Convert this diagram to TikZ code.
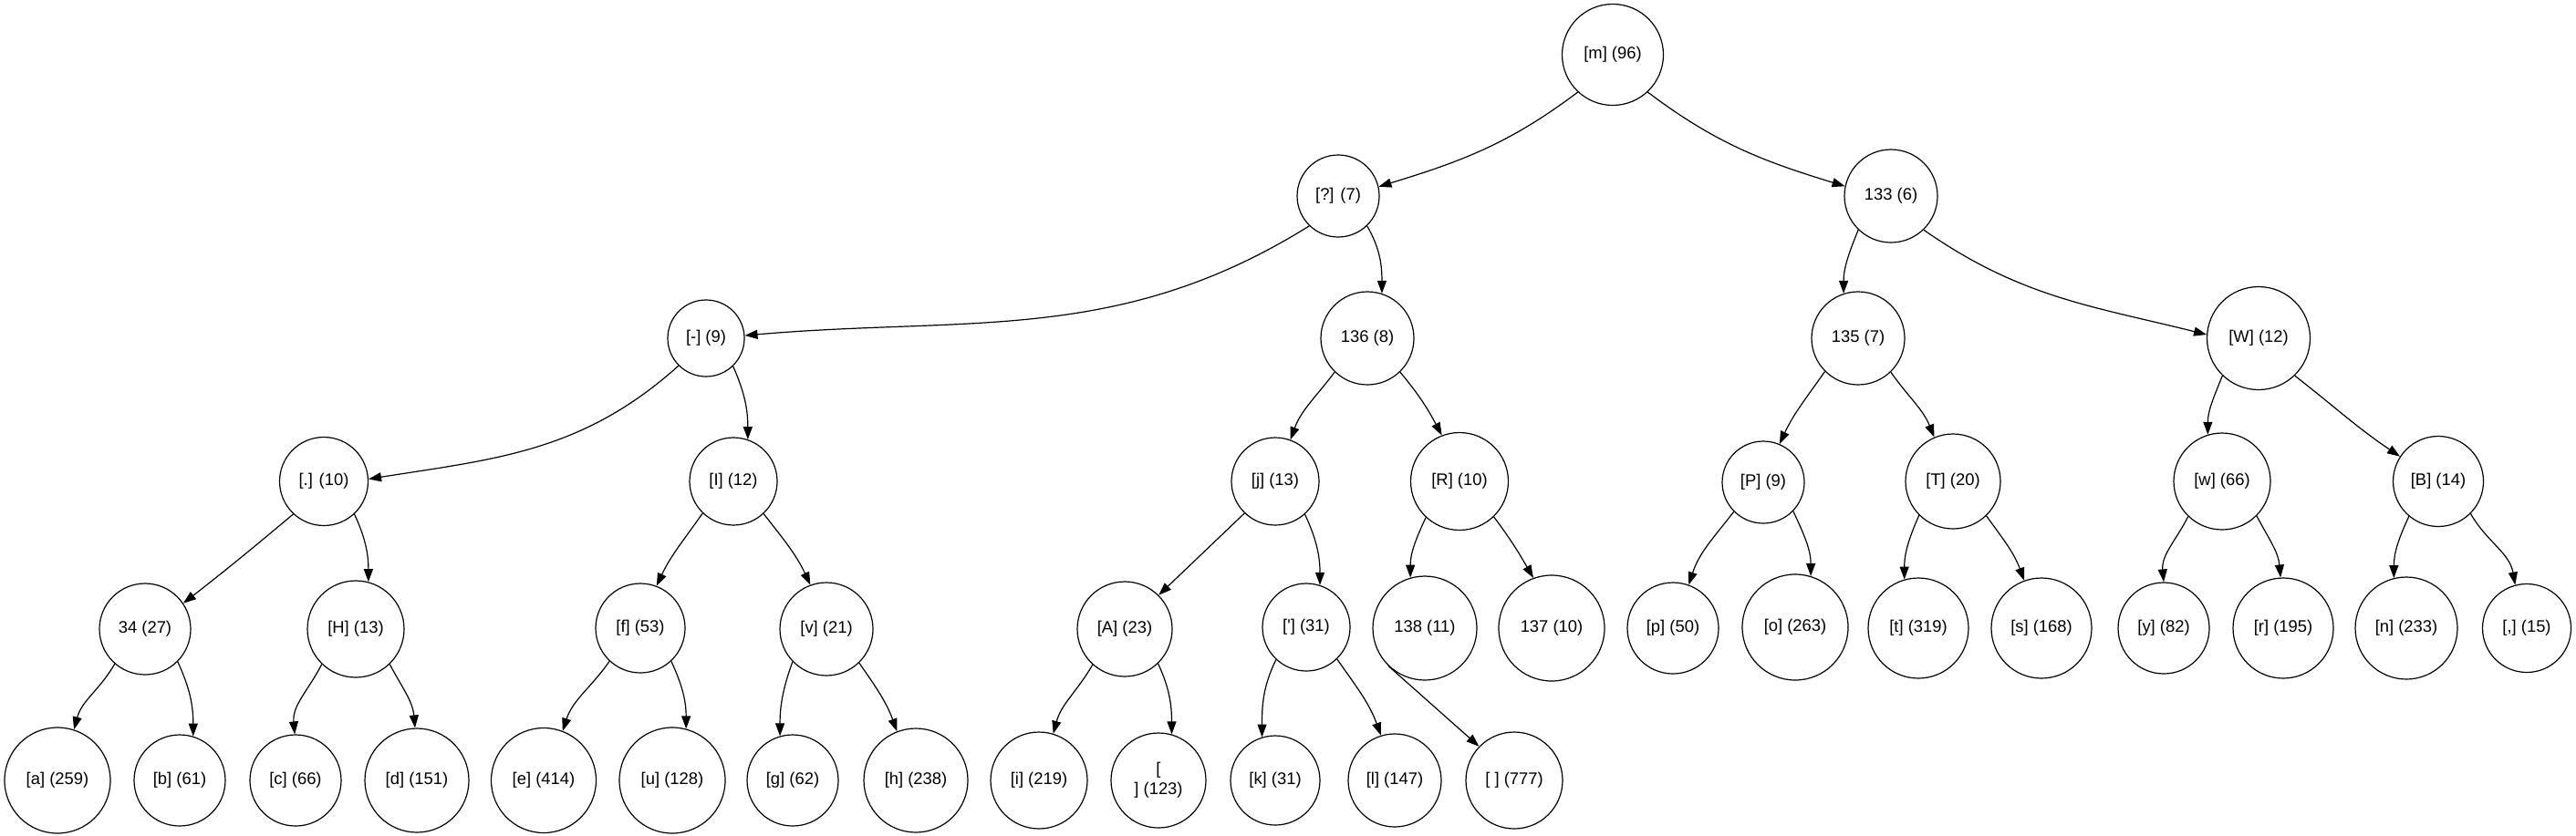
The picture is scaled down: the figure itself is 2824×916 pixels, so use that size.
\documentclass[tikz,border=0pt]{standalone}
\usepackage{fontspec}
\newfontfamily\lsans{Liberation Sans}
\usetikzlibrary{arrows.meta}
\tikzset{
  nd/.style={circle, draw, line width=0.6pt, inner sep=0pt, minimum size={#1*0.5pt},
    font=\lsans\fontsize{9.2}{11}\selectfont, align=center},
  ed/.style={-{Triangle[length=7pt,width=5pt]}, line width=0.6pt}
}
\begin{document}
\begin{tikzpicture}[x=0.5pt,y=-0.5pt]
\useasboundingbox (0,0) rectangle (2824,916);
% level 0
\node[nd=111] (m) at (1768,60) {[m] (96)};
% level 1
\node[nd=90] (q) at (1467,215) {[?] (7)};
\node[nd=102] (n133) at (2073,215) {133 (6)};
% level 2
\node[nd=84] (dash) at (774,371) {[-] (9)};
\node[nd=102] (n136) at (1499,371) {136 (8)};
\node[nd=102] (n135) at (2037,371) {135 (7)};
\node[nd=113] (W) at (2476,371) {[W] (12)};
% level 3
\node[nd=97] (dot) at (355,528) {[.] (10)};
\node[nd=96] (I) at (804,528) {[I] (12)};
\node[nd=96] (j) at (1398,528) {[j] (13)};
\node[nd=107] (R) at (1600,528) {[R] (10)};
\node[nd=90] (P) at (1933,529) {[P] (9)};
\node[nd=104] (T) at (2141,528) {[T] (20)};
\node[nd=106] (w) at (2436,528) {[w] (66)};
\node[nd=99] (B) at (2673,528) {[B] (14)};
% level 4
\node[nd=100] (n34) at (159,690) {34 (27)};
\node[nd=106] (H) at (390,690) {[H] (13)};
\node[nd=98] (f) at (702,689) {[f] (53)};
\node[nd=102] (v) at (906,690) {[v] (21)};
\node[nd=104] (A) at (1233,690) {[A] (23)};
\node[nd=96] (apo) at (1432,688) {['] (31)};
\node[nd=114] (n138) at (1562,689) {138 (11)};
\node[nd=116] (n137) at (1701,689) {137 (10)};
\node[nd=100] (p) at (1834,689) {[p] (50)};
\node[nd=116] (o) at (1968,688) {[o] (263)};
\node[nd=110] (t) at (2103,689) {[t] (319)};
\node[nd=110] (s) at (2238,689) {[s] (168)};
\node[nd=100] (y) at (2372,689) {[y] (82)};
\node[nd=110] (r) at (2503,689) {[r] (195)};
\node[nd=112] (n) at (2638,689) {[n] (233)};
\node[nd=97] (comma) at (2770,689) {[,] (15)};
% level 5
\node[nd=116] (a) at (63,856) {[a] (259)};
\node[nd=100] (b) at (197,856) {[b] (61)};
\node[nd=100] (c) at (324,856) {[c] (66)};
\node[nd=114] (d) at (457,856) {[d] (151)};
\node[nd=115] (e) at (596,856) {[e] (414)};
\node[nd=116] (u) at (737,856) {[u] (128)};
\node[nd=100] (g) at (869,856) {[g] (62)};
\node[nd=114] (h) at (1004,856) {[h] (238)};
\node[nd=106] (i) at (1139,856) {[i] (219)};
\node[nd=104] (nl) at (1270,856) {[\\] (123)};
\node[nd=98] (k) at (1398,856) {[k] (31)};
\node[nd=102] (l) at (1529,856) {[l] (147)};
\node[nd=106] (sp) at (1660,856) {[ ] (777)};
% edges
\draw[ed] (m.227) to[out=217,in=17] (q.13);
\draw[ed] (m.313) to[out=323,in=163] (n133.168);
\draw[ed] (q.226) to[out=212,in=5] (dash.4);
\draw[ed] (q.314) to[out=300,in=90] (n136.72);
\draw[ed] (n133.226) to[out=248,in=90] (n135.108);
\draw[ed] (n133.314) to[out=325,in=166] (W.176);
\draw[ed] (dash.225) to[out=222,in=9] (dot.3);
\draw[ed] (dash.314) to[out=294,in=90] (I.71);
\draw[ed] (n136.226) to[out=233,in=70] (j.70);
\draw[ed] (n136.314) to[out=310,in=118] (R.111);
\draw[ed] (n135.225) to[out=235,in=65] (P.67);
\draw[ed] (n135.314) to[out=305,in=112] (T.113);
\draw[ed] (W.226) to[out=248,in=90] (w.107);
\draw[ed] (W.314) to[out=322,in=146] (B.147);
\draw[ed] (dot.227) to[out=220,in=38] (n34.34);
\draw[ed] (dot.313) to[out=295,in=90] (H.75);
\draw[ed] (I.226) to[out=235,in=65] (f.69);
\draw[ed] (I.313) to[out=308,in=115] (v.110);
\draw[ed] (j.226) -- (A.45);
\draw[ed] (j.312) to[out=295,in=90] (apo.72);
\draw[ed] (R.227) to[out=245,in=90] (n138.106);
\draw[ed] (R.314) to[out=307,in=120] (n137.110);
\draw[ed] (P.225) to[out=232,in=72] (p.70);
\draw[ed] (P.316) to[out=295,in=90] (o.73);
\draw[ed] (T.225) to[out=246,in=90] (t.106);
\draw[ed] (T.314) to[out=306,in=110] (s.110);
\draw[ed] (w.226) to[out=243,in=95] (y.90);
\draw[ed] (w.315) to[out=298,in=95] (r.93);
\draw[ed] (B.230) to[out=245,in=90] (n.104);
\draw[ed] (B.315) to[out=300,in=100] (comma.105);
\draw[ed] (n34.229) to[out=240,in=75] (a.72);
\draw[ed] (n34.315) to[out=295,in=90] (b.73);
\draw[ed] (H.226) to[out=243,in=95] (c.91);
\draw[ed] (H.314) to[out=298,in=95] (d.92);
\draw[ed] (f.227) to[out=235,in=72] (e.69);
\draw[ed] (f.313) to[out=295,in=90] (u.75);
\draw[ed] (v.224) to[out=250,in=90] (g.106);
\draw[ed] (v.314) to[out=305,in=110] (h.111);
\draw[ed] (A.228) to[out=240,in=75] (i.73);
\draw[ed] (A.314) to[out=295,in=90] (nl.74);
\draw[ed] (apo.227) to[out=244,in=90] (k.107);
\draw[ed] (apo.314) to[out=305,in=110] (l.107);
\draw[ed] (n138.226) -- (sp.136);
\end{tikzpicture}
\end{document}
